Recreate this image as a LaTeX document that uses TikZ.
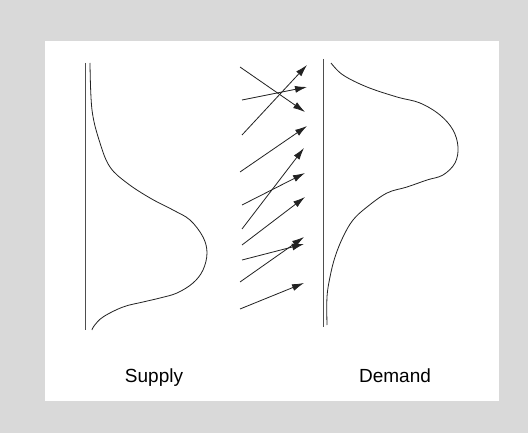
\documentclass[tikz,border=0pt]{standalone}
\usepackage{fontspec}
\setmainfont{Liberation Sans}
\usetikzlibrary{arrows.meta}
\definecolor{bggray}{HTML}{D9D9D9}
\definecolor{ink}{HTML}{222222}
\tikzset{
  flow/.style={draw=ink, line width=0.8pt, -{Latex[length=12pt,width=7pt]}},
  axisline/.style={draw=ink!80, line width=0.9pt},
  curve/.style={draw=ink, line width=0.8pt},
  label/.style={font=\fontsize{19}{22}\selectfont, text=black, inner sep=0pt, anchor=base}
}
\begin{document}
\begin{tikzpicture}[x=1pt,y=-1pt]
\useasboundingbox (0,0) rectangle (528,433);
\fill[bggray] (0,0) rectangle (528,433);
\fill[white] (45,41) rectangle (499,401);
% axes
\draw[axisline] (85,63) -- (85,330);
\draw[axisline] (323,59) -- (323,327);
% supply curve
\draw[curve] plot[smooth, tension=0.6] coordinates {(90,63) (92,110) (100,143) (110,167) (127,183) (150,198) (173,210) (190,220) (203,237) (207,253) (203,270) (193,283) (177,293) (160,298) (143,302) (123,307) (103,317) (94,326) (92,330)};
% demand curve
\draw[curve] plot[smooth, tension=0.6] coordinates {(331,63) (343,75) (367,87) (397,97) (420,103) (440,115) (453,130) (458,147) (455,163) (443,175) (427,180) (407,187) (387,193) (367,207) (353,220) (343,237) (335,257) (330,277) (327,297) (327,325)};
% arrow endpoints
\coordinate (a1) at (240,67);  \coordinate (b1) at (305,112);
\coordinate (a2) at (242,100); \coordinate (b2) at (307,87);
\coordinate (a3) at (242,135); \coordinate (b3) at (307,65);
\coordinate (a4) at (240,172); \coordinate (b4) at (307,126);
\coordinate (a5) at (242,229); \coordinate (b5) at (304,148);
\coordinate (a6) at (242,205); \coordinate (b6) at (305,173);
\coordinate (a7) at (242,245); \coordinate (b7) at (305,197);
\coordinate (a8) at (242,260); \coordinate (b8) at (304,244);
\coordinate (a9) at (240,282); \coordinate (b9) at (304,237);
\coordinate (a10) at (240,309); \coordinate (b10) at (304,283);
\foreach \i in {1,...,10} \draw[flow] (a\i) -- (b\i);
% labels
\node[label] (supply) at (154,382) {Supply};
\node[label] (demand) at (395,382) {Demand};
\end{tikzpicture}
\end{document}
